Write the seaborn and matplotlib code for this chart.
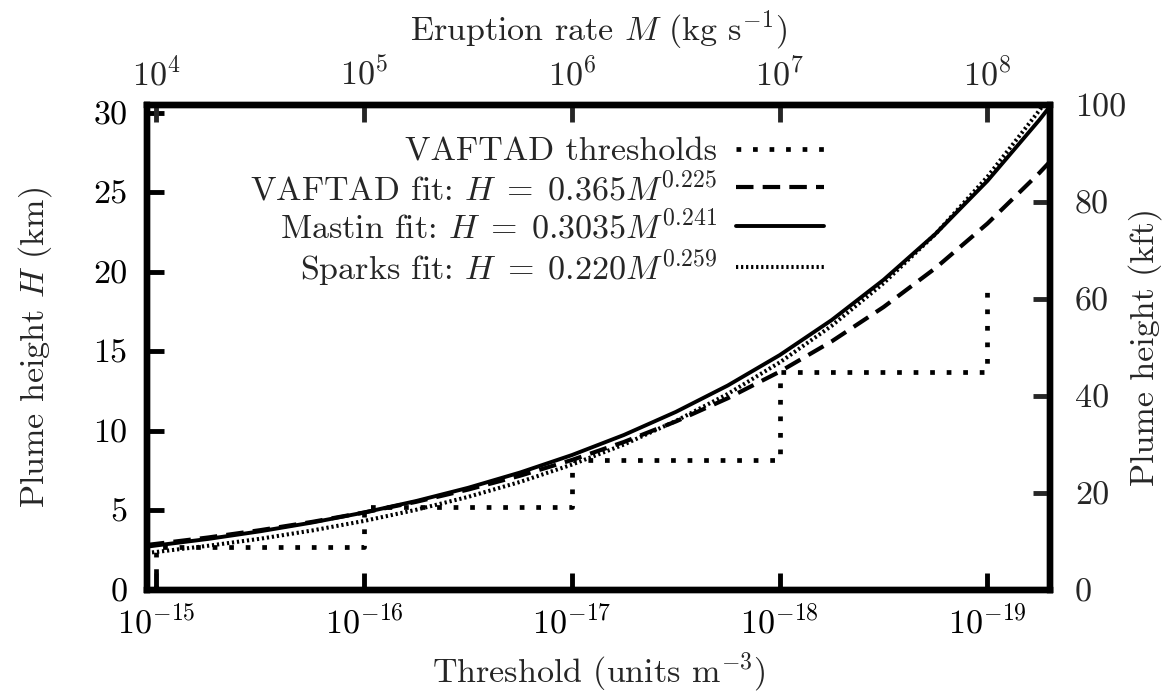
import numpy as np
import pandas as pd
import matplotlib
matplotlib.use("Agg")
import matplotlib.pyplot as plt
from matplotlib.ticker import NullLocator, FixedLocator, FixedFormatter
import seaborn as sns

# ---------------- data ----------------
eruption_rate = [9.0e3, 1.0e4, 1.778e4, 3.162e4, 5.623e4, 1.0e5, 1.778e5, 3.162e5, 5.623e5,
                 1.0e6, 1.778e6, 3.162e6, 5.623e6, 1.0e7, 1.778e7, 3.162e7, 5.623e7,
                 1.0e8, 1.778e8, 2.0e8]
vaftad_fit_H = [2.83, 2.90, 3.30, 3.76, 4.28, 4.87, 5.54, 6.31, 7.18, 8.17, 9.30, 10.59,
                12.05, 13.72, 15.62, 17.78, 20.23, 23.03, 26.21, 26.92]
mastin_fit_H = [2.72, 2.80, 3.21, 3.69, 4.24, 4.87, 5.59, 6.42, 7.38, 8.48, 9.74, 11.19,
                12.85, 14.76, 16.96, 19.49, 22.38, 25.71, 29.54, 30.39]
sparks_fit_H = [2.33, 2.39, 2.78, 3.22, 3.74, 4.34, 5.04, 5.85, 6.79, 7.88, 9.14, 10.62,
                12.32, 14.30, 16.60, 19.28, 22.37, 25.97, 30.14, 31.07]

threshold_edges_M = [1e4, 1e5, 1e6, 1e7, 1e8]
threshold_levels_H = [2.7, 5.2, 8.15, 13.7, 19.1]

top_ticks = [1e4, 1e5, 1e6, 1e7, 1e8]
top_labels = [r"$10^{4}$", r"$10^{5}$", r"$10^{6}$", r"$10^{7}$", r"$10^{8}$"]
bottom_labels = [r"$10^{-15}$", r"$10^{-16}$", r"$10^{-17}$", r"$10^{-18}$", r"$10^{-19}$"]
left_ticks = [0, 5, 10, 15, 20, 25, 30]
right_ticks = [0, 20, 40, 60, 80, 100]

labels = ["VAFTAD thresholds",
          r"VAFTAD fit: $H\;=\;0.365M^{0.225}$",
          r"Mastin fit: $H\;=\;0.3035M^{0.241}$",
          r"Sparks fit: $H\;=\;0.220M^{0.259}$"]

# ---------------- style ----------------
sns.set_style("ticks")
plt.rcParams["font.family"] = ["cmr10", "DejaVu Serif"]
plt.rcParams["mathtext.fontset"] = "cm"
plt.rcParams["axes.formatter.use_mathtext"] = True
plt.rcParams["axes.unicode_minus"] = False
FS = 24.5

fig = plt.figure(figsize=(11.72, 6.91), dpi=100)
ax = fig.add_axes([0.1254, 0.1462, 0.7705, 0.7019])

# step vertices for thresholds
sx, sy = [threshold_edges_M[0]], [0.0]
for i, (m, h) in enumerate(zip(threshold_edges_M, threshold_levels_H)):
    sx.append(m); sy.append(h)
    if i + 1 < len(threshold_edges_M):
        sx.append(threshold_edges_M[i + 1]); sy.append(h)
steps = pd.DataFrame({"M": sx, "H": sy})

fits = pd.DataFrame({"M": eruption_rate, "vaftad": vaftad_fit_H,
                     "mastin": mastin_fit_H, "sparks": sparks_fit_H})

sns.lineplot(data=steps, x="M", y="H", ax=ax, color="black", estimator=None, sort=False,
             linewidth=3.4, linestyle=(0, (1.0, 2.5)), label=labels[0])
sns.lineplot(data=fits, x="M", y="vaftad", ax=ax, color="black", estimator=None,
             linewidth=3.0, linestyle=(0, (4.2, 2.2)), label=labels[1])
sns.lineplot(data=fits, x="M", y="mastin", ax=ax, color="black", estimator=None,
             linewidth=2.8, linestyle="-", label=labels[2])
sns.lineplot(data=fits, x="M", y="sparks", ax=ax, color="black", estimator=None,
             linewidth=2.9, linestyle=(0, (0.55, 0.7)), label=labels[3])
for ln in ax.get_lines():
    ln.set_dash_capstyle("butt")

ax.set_xscale("log")
ax.set_xlim(9.0e3, 2.0e8)
ax.set_ylim(0, 30.48)

ax.xaxis.set_major_locator(FixedLocator(top_ticks))
ax.xaxis.set_major_formatter(FixedFormatter(bottom_labels))
ax.xaxis.set_minor_locator(NullLocator())
ax.set_yticks(left_ticks)
ax.set_yticklabels([str(t) for t in left_ticks])
ax.tick_params(axis="both", direction="in", length=12, width=3.5, labelsize=FS,
               colors="black", top=False, right=False)
ax.tick_params(axis="x", pad=10)
ax.tick_params(axis="y", pad=14)
ax.set_xlabel(r"Threshold (units m$^{-3}$)", fontsize=FS, labelpad=8)
ax.set_ylabel(r"Plume height $H$ (km)", fontsize=FS, labelpad=28)

# top axis
axt = ax.twiny()
axt.set_xscale("log")
axt.set_xlim(ax.get_xlim())
axt.xaxis.set_major_locator(FixedLocator(top_ticks))
axt.xaxis.set_major_formatter(FixedFormatter(top_labels))
axt.xaxis.set_minor_locator(NullLocator())
axt.tick_params(axis="x", direction="in", length=12, width=3.5, labelsize=FS, pad=10)
axt.set_xlabel(r"Eruption rate $M$ (kg s$^{-1}$)", fontsize=FS, labelpad=12)

# right axis
axr = ax.twinx()
axr.set_ylim(0, 100)
axr.set_yticks(right_ticks)
axr.set_yticklabels([str(t) for t in right_ticks])
axr.tick_params(axis="y", direction="in", length=12, width=3.5, labelsize=FS, pad=18)
axr.set_ylabel("Plume height (kft)", fontsize=FS, labelpad=1)

for a in (ax, axt, axr):
    for s in a.spines.values():
        s.set_linewidth(4.5)
        s.set_color("black")
        s.set_visible(True)

ax.legend(loc="upper right", bbox_to_anchor=(0.765, 0.962), frameon=False,
          markerfirst=False, fontsize=FS, handlelength=2.6, handletextpad=0.55,
          labelspacing=0.1, borderaxespad=0.0)

fig.savefig("out.png", dpi=100, facecolor="white")
